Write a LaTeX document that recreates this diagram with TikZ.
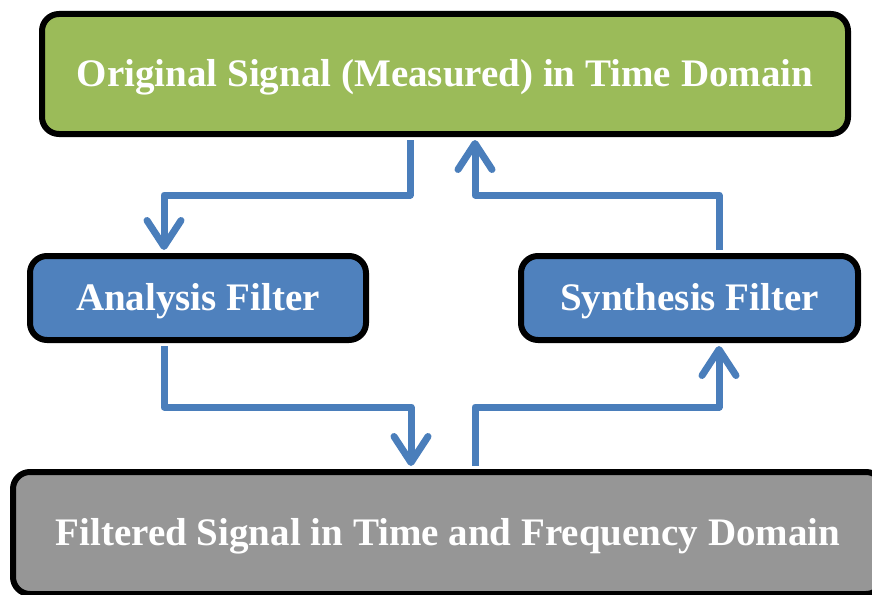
\documentclass[tikz,border=0pt]{standalone}
\usepackage{fontspec}
\setmainfont{Liberation Serif}
\usetikzlibrary{arrows.meta,calc}
\definecolor{boxgreen}{HTML}{9BBB59}
\definecolor{boxblue}{HTML}{4F81BD}
\definecolor{boxgray}{HTML}{969696}
\definecolor{connblue}{HTML}{4A7EBB}
\tikzset{
  box/.style={draw=black, line width=6pt, rounded corners=17pt, text=white,
    font=\fontsize{39}{42}\selectfont\bfseries, inner sep=0pt,
    text height=25pt, text depth=0pt},
  conn/.style={draw=connblue, line width=7pt, line join=round,
    -{Straight Barb[length=26pt,width=34pt,round]}, shorten <=3pt, shorten >=3pt},
}
\begin{document}
\begin{tikzpicture}[x=1pt,y=-1pt]
\useasboundingbox (0,0) rectangle (872,594);
\clip (0,0) rectangle (872,594);
\node[box, fill=boxgreen, minimum width=806pt, minimum height=120pt] (top) at (445,74) {Original Signal (Measured) in Time Domain};
\node[box, fill=boxblue, minimum width=336pt, minimum height=84pt] (ana) at (198,298) {Analysis Filter};
\node[box, fill=boxblue, minimum width=337pt, minimum height=84pt] (syn) at (689.5,298) {Synthesis Filter};
\node[box, fill=boxgray, minimum width=870pt, minimum height=122pt] (bot) at (448,533) {Filtered Signal in Time and Frequency Domain};
\draw[conn] ([xshift=-35pt]top.south) -- ([xshift=-35pt]top.south |- 0,195) -| ([xshift=-34pt]ana.north);
\draw[conn] ([xshift=29.5pt]syn.north) -- ([xshift=29.5pt]syn.north |- 0,195) -| ([xshift=30pt]top.south);
\draw[conn] ([xshift=-34pt]ana.south) -- ([xshift=-34pt]ana.south |- 0,407) -| ([xshift=-37pt]bot.north);
\draw[conn] ([xshift=27pt]bot.north) -- ([xshift=27pt]bot.north |- 0,407) -| ([xshift=29.5pt]syn.south);
\end{tikzpicture}
\end{document}
